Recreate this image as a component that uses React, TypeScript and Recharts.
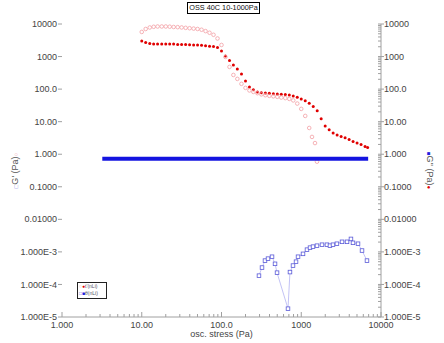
import React from 'react';
import { ScatterChart, Scatter, XAxis, YAxis, Label } from 'recharts';

// ---- data ----
const stressA = [10, 11.2, 12.6, 14.1, 15.8, 17.8, 20, 22.4, 25.1, 28.2, 31.6, 35.5, 39.8, 44.7, 50.1, 56.2, 63.1, 70.8, 79.4, 89.1, 100, 112, 126, 141, 158, 178, 200, 224, 251, 282, 316, 355, 398, 447, 501, 562, 631, 708, 794, 891, 1000, 1122, 1259, 1413, 1585, 1778, 1995, 2239, 2512, 2818, 3162, 3548, 3981, 4467, 5012, 5623, 6310, 6800];
const gDoubleA = [3010, 2690, 2500, 2440, 2440, 2440, 2440, 2440, 2410, 2350, 2350, 2350, 2320, 2270, 2270, 2210, 2150, 2090, 2030, 1890, 1490, 1040, 760, 552, 417, 293, 178, 117, 95, 82, 77, 76, 74, 72, 71, 70, 68, 66, 61, 56, 50, 44, 37, 29, 21.5, 12.2, 7.4, 5.6, 4.5, 3.9, 3.5, 3.2, 2.83, 2.48, 2.23, 2.0, 1.74, 1.62];

const stressAPrime = [10, 11.2, 12.6, 14.1, 15.8, 17.8, 20, 22.4, 25.1, 28.2, 31.6, 35.5, 39.8, 44.7, 50.1, 56.2, 63.1, 70.8, 79.4, 89.1, 100, 112, 126, 141, 158, 178, 200, 224, 251, 282, 316, 355, 398, 447, 501, 562, 631, 708, 794, 891, 1000, 1122, 1259, 1364, 1487, 1575];
const gPrimeA = [5700, 7030, 7820, 8210, 8380, 8380, 8380, 8260, 8090, 8000, 7830, 7620, 7420, 7220, 7030, 6660, 6050, 5380, 4660, 3590, 2270, 973, 481, 272, 206, 145, 109, 91, 82, 75, 69, 65, 62, 60, 58, 55, 53, 50, 45, 36, 24.7, 15, 6.4, 3.4, 2.2, 0.59];

const stressB = [295, 322, 351, 383, 430, 469, 497, 682, 722, 788, 860, 911, 1052, 1180, 1288, 1404, 1575, 1820, 2100, 2290, 2500, 2800, 3245, 3750, 4200, 4455, 5150, 5780, 6670];
const gPrimeB = [1.86e-4, 3.3e-4, 5.4e-4, 6.2e-4, 7.1e-4, 4.3e-4, 2.3e-4, 1.8e-5, 2.4e-4, 3.8e-4, 5.0e-4, 7.1e-4, 8.7e-4, 1.17e-3, 1.35e-3, 1.45e-3, 1.55e-3, 1.66e-3, 1.66e-3, 1.55e-3, 1.66e-3, 1.78e-3, 2.04e-3, 2.04e-3, 2.5e-3, 1.9e-3, 1.78e-3, 1.1e-3, 5.4e-4];

const stressBLine = [3.2, 10, 30, 100, 300, 1000, 3000, 6900];
const gDoubleB = [0.72, 0.72, 0.72, 0.72, 0.72, 0.72, 0.72, 0.72];

const yMajor = [1e-5, 1e-4, 1e-3, 1e-2, 0.1, 1, 10, 100, 1000, 10000];
const yLabels = ['1.000E-5', '1.000E-4', '1.000E-3', '0.01000', '0.1000', '1.000', '10.00', '100.0', '1000', '10000'];
const xMajor = [1, 10, 100, 1000, 10000];
const xLabels = ['1.000', '10.00', '100.0', '1000', '10000'];
const legendNames = ["t'(nLi)", 'θ(nLi)'];
const title = 'OSS 40C 10-1000Pa';

const pts = (xs: number[], ys: number[]) => xs.map((x, i) => ({ x, y: ys[i] }));
const dataPinkA = pts(stressAPrime, gPrimeA);
const dataRedA = pts(stressA, gDoubleA);
const dataBlueB = pts(stressB, gPrimeB);
const dataBlueLine = pts(stressBLine, gDoubleB);

const minors = (majors: number[]) => {
  const out: number[] = [];
  for (let i = 0; i < majors.length - 1; i++) {
    for (let m = 2; m <= 9; m++) out.push(majors[i] * m);
  }
  return out;
};
const yTicksRight = [...yMajor, ...minors(yMajor)].sort((a, b) => a - b);
const xTicks = [...xMajor, ...minors(xMajor)].sort((a, b) => a - b);

const majorIndex = (v: number, majors: number[]) =>
  majors.findIndex((m) => Math.abs(Math.log10(v) - Math.log10(m)) < 1e-6);

const FONT = '"Liberation Sans", Arial, sans-serif';
const AXIS = '#a0a0a0';
const TXT = '#444';

const LeftTick = (p: any) => {
  const { x, y, payload } = p;
  const i = majorIndex(payload.value, yMajor);
  if (i < 0) return <g />;
  return (
    <g>
      <line x1={x - 4} x2={x} y1={y} y2={y} stroke={AXIS} />
      <text x={x - 5} y={y} dy="0.35em" textAnchor="end" fontSize={9} fontFamily={FONT} fill={TXT}>{yLabels[i]}</text>
    </g>
  );
};

const RightTick = (p: any) => {
  const { x, y, payload } = p;
  const i = majorIndex(payload.value, yMajor);
  if (i < 0) return <line x1={x - 3} x2={x} y1={y} y2={y} stroke={AXIS} />;
  return (
    <g>
      <line x1={x - 3} x2={x + 3} y1={y} y2={y} stroke={AXIS} />
      <text x={x + 3} y={y} dy="0.35em" textAnchor="start" fontSize={9} fontFamily={FONT} fill={TXT}>{yLabels[i]}</text>
    </g>
  );
};

const BottomTick = (p: any) => {
  const { x, y, payload } = p;
  const i = majorIndex(payload.value, xMajor);
  if (i < 0) return <line x1={x} x2={x} y1={y} y2={y - 3} stroke={AXIS} />;
  return (
    <g>
      <line x1={x} x2={x} y1={y} y2={y - 5} stroke={AXIS} />
      <text x={x} y={y + 11} textAnchor="middle" fontSize={9} fontFamily={FONT} fill={TXT}>{xLabels[i]}</text>
    </g>
  );
};

const PinkCircle = (p: any) => <circle cx={p.cx} cy={p.cy} r={1.8} fill="#fff" fillOpacity={0} stroke="#f2a0a4" strokeWidth={0.8} />;
const RedDot = (p: any) => <circle cx={p.cx} cy={p.cy} r={1.5} fill="#e00000" />;
const BlueSquare = (p: any) => <rect x={p.cx - 1.8} y={p.cy - 1.8} width={3.6} height={3.6} fill="#fff" stroke="#5a5ad8" strokeWidth={0.8} />;
const NoShape = () => <g />;

const LeftLabel = (p: any) => {
  const vb = p.viewBox || { x: 0, y: 24, width: 62, height: 293 };
  const cx = vb.x + 15;
  const cy = vb.y + vb.height / 2;
  return (
    <text x={cx} y={cy} transform={`rotate(-90 ${cx} ${cy})`} textAnchor="middle" dy="0.35em" fontSize={9} fontFamily={FONT} fill="#555">
      <tspan fill="#6a6ae0" fontSize={6}>□</tspan>
      <tspan>G' (Pa)</tspan>
      <tspan fill="#f0a0a8" fontSize={6}>○</tspan>
    </text>
  );
};

const RightLabel = (p: any) => {
  const vb = p.viewBox || { x: 381, y: 24, width: 63, height: 293 };
  const cx = vb.x + 49;
  const cy = vb.y + vb.height / 2;
  return (
    <text x={cx} y={cy} transform={`rotate(90 ${cx} ${cy})`} textAnchor="middle" dy="0.35em" fontSize={9} fontFamily={FONT} fill="#555">
      <tspan fill="#2020e0" fontSize={6}>■</tspan>
      <tspan>G'' (Pa)</tspan>
      <tspan fill="#e00000" fontSize={6}>●</tspan>
    </text>
  );
};

const BottomLabel = (p: any) => {
  const vb = p.viewBox || { x: 62, y: 317, width: 319, height: 26 };
  return (
    <text x={vb.x + vb.width / 2} y={vb.y + 20} textAnchor="middle" fontSize={9} fontFamily={FONT} fill={TXT}>osc. stress (Pa)</text>
  );
};

export default function App() {
  return (
    <div style={{ position: 'absolute', left: 0, top: 0, width: 444, height: 343, background: '#fff' }}>
      <ScatterChart width={444} height={343} margin={{ top: 24, right: 0, bottom: 0, left: 0 }}>
        <XAxis
          dataKey="x"
          type="number"
          scale="log"
          domain={[1, 10000]}
          allowDataOverflow
          ticks={xTicks}
          interval={0}
          tick={<BottomTick />}
          tickLine={false}
          tickSize={0}
          tickMargin={0}
          height={26}
          axisLine={{ stroke: AXIS }}
        >
          <Label content={<BottomLabel />} />
        </XAxis>
        <YAxis
          yAxisId="left"
          dataKey="y"
          type="number"
          scale="log"
          domain={[1e-5, 10000]}
          allowDataOverflow
          ticks={yMajor}
          interval={0}
          tick={<LeftTick />}
          tickLine={false}
          tickSize={0}
          tickMargin={0}
          width={62}
          axisLine={false}
        >
          <Label content={<LeftLabel />} />
        </YAxis>
        <YAxis
          yAxisId="right"
          orientation="right"
          dataKey="y"
          type="number"
          scale="log"
          domain={[1e-5, 10000]}
          allowDataOverflow
          ticks={yTicksRight}
          interval={0}
          tick={<RightTick />}
          tickLine={false}
          tickSize={0}
          tickMargin={0}
          width={63}
          axisLine={{ stroke: AXIS }}
        >
          <Label content={<RightLabel />} />
        </YAxis>
        <Scatter yAxisId="right" data={dataRedA} shape={RedDot} isAnimationActive={false} />
        <Scatter yAxisId="left" data={dataPinkA} shape={PinkCircle} isAnimationActive={false} />
        <Scatter yAxisId="left" data={dataBlueB} shape={BlueSquare} line={{ stroke: '#b4b4f2', strokeWidth: 0.8 }} isAnimationActive={false} />
        <Scatter yAxisId="right" data={dataBlueLine} shape={NoShape} line={{ stroke: '#1414e0', strokeWidth: 4 }} isAnimationActive={false} />
      </ScatterChart>
      <div style={{ position: 'absolute', left: 187, top: 2, width: 71, height: 10, border: '1px solid #000', fontFamily: FONT, fontSize: 7.3, lineHeight: '10px', textAlign: 'center', color: '#111', whiteSpace: 'nowrap' }}>
        {title}
      </div>
      <div style={{ position: 'absolute', left: 77, top: 282, width: 28, height: 15, border: '1px solid #222', fontFamily: FONT, fontSize: 5, lineHeight: '7px', color: '#556', whiteSpace: 'nowrap', background: '#fff' }}>
        <div style={{ paddingLeft: 1 }}>
          <span style={{ color: '#f0a0a8' }}>○</span><span style={{ color: '#e00000' }}>●</span>{legendNames[0]}
        </div>
        <div style={{ paddingLeft: 1 }}>
          <span style={{ color: '#6a6ae0' }}>□</span><span style={{ color: '#2020e0' }}>■</span>{legendNames[1]}
        </div>
      </div>
    </div>
  );
}
